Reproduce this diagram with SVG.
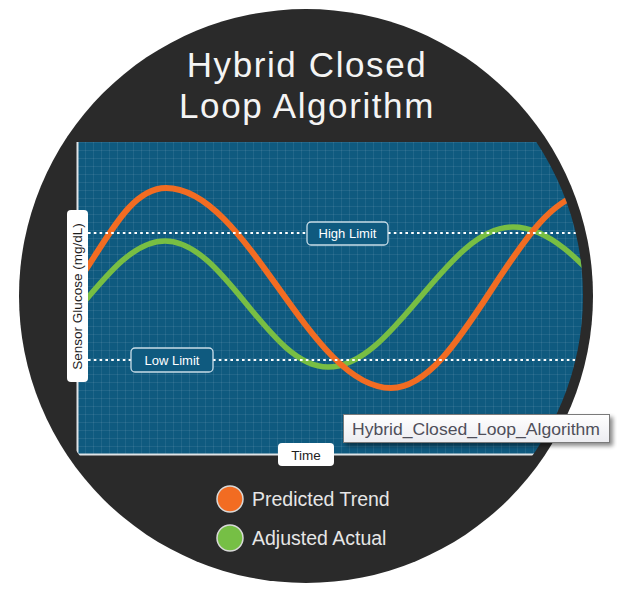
<svg xmlns="http://www.w3.org/2000/svg" width="617" height="590" viewBox="0 0 617 590">
<defs>
<style>
.title{font-family:"Liberation Sans",Arial,sans-serif;font-size:35px;fill:#f4f4f4;letter-spacing:1.6px;text-anchor:middle}
.axis-box{fill:#ffffff}
.axis-text{font-family:"Liberation Sans",Arial,sans-serif;font-size:13.5px;fill:#1e1e1e;text-anchor:middle}
.limit-box{fill:#0f5a7f;stroke:#c9dde8;stroke-width:1.3}
.limit-text{font-family:"Liberation Sans",Arial,sans-serif;font-size:13px;fill:#ffffff;text-anchor:middle}
.limit-line{stroke:#ffffff;stroke-width:2;stroke-dasharray:2.6 3.2;fill:none}
.curve{fill:none;stroke-linecap:round}
.legend-text{font-family:"Liberation Sans",Arial,sans-serif;font-size:19.5px;fill:#e6e6e6}
.legend-dot{stroke:#d9d9d9;stroke-width:1.5}
</style>
<pattern id="grid" x="77" y="142" width="8" height="8" patternUnits="userSpaceOnUse">
<path d="M0.5 0V8M0 0.5H8" stroke="#ffffff" stroke-opacity="0.075" stroke-width="1" fill="none"/>
</pattern>
<clipPath id="chartClip"><circle cx="306" cy="296" r="277"/></clipPath>
<clipPath id="plotClip"><rect x="77" y="142" width="540" height="312"/></clipPath>
<linearGradient id="tipGrad" x1="0" y1="0" x2="0" y2="1">
<stop offset="0" stop-color="#ffffff"/><stop offset="1" stop-color="#ececf0"/>
</linearGradient>
<filter id="shadow" x="-10%" y="-40%" width="130%" height="200%"><feGaussianBlur stdDeviation="2"/></filter>
</defs>

<rect width="617" height="590" fill="#ffffff"/>
<g id="badge">
<circle cx="306" cy="296" r="287" fill="#2a2a2a"/>
</g>

<g id="title">
<text class="title" x="307" y="77">Hybrid Closed</text>
<text class="title" x="307" y="118">Loop Algorithm</text>
</g>

<g id="chart" clip-path="url(#chartClip)">
<rect x="77" y="142" width="540" height="312" fill="#0f5a7f"/>
<rect x="77" y="142" width="540" height="312" fill="url(#grid)"/>
<g id="connectors" clip-path="url(#plotClip)">
<path id="adjusted-actual" class="curve" stroke="#78be43" stroke-width="5.5" d="M0 367 C60 367 105 241 165 241 C225 241 268 367 328 367 C395 367 446 227 513 227 C586 227 640 367 713 367"/>
<path id="predicted-trend" class="curve" stroke="#f26c22" stroke-width="6" d="M72 290 C105 245 128 188 166 188 C248 188 309 388 391 388 C464 388 518 193 591 193 C640 193 660 250 680 300"/>
<path class="limit-line" d="M88 233H307M388 233H600"/>
<path class="limit-line" d="M88 360H131M213 360H600"/>
</g>
<path d="M77.5 142V454.5H600" fill="none" stroke="#dfe3e6" stroke-width="2"/>
</g>

<g id="high-limit">
<rect class="limit-box" x="307" y="222" width="81" height="23" rx="4"/>
<text class="limit-text" x="347.5" y="238">High Limit</text>
</g>
<g id="low-limit">
<rect class="limit-box" x="131" y="348" width="82" height="24" rx="4"/>
<text class="limit-text" x="172" y="364.5">Low Limit</text>
</g>

<g id="y-axis-label">
<rect class="axis-box" x="67" y="210" width="21" height="172" rx="4"/>
<text class="axis-text" transform="translate(82,296.5) rotate(-90)">Sensor Glucose (mg/dL)</text>
</g>
<g id="x-axis-label">
<rect class="axis-box" x="278" y="443" width="56" height="23" rx="4"/>
<text class="axis-text" x="306" y="459.5">Time</text>
</g>

<g id="tooltip">
<rect x="346" y="417" width="267" height="29" fill="#000000" opacity="0.45" filter="url(#shadow)"/>
<rect x="343.5" y="414.5" width="266" height="28" fill="url(#tipGrad)" stroke="#7a7a7a" stroke-width="1"/>
<text x="352" y="435" font-family="'Liberation Sans',Arial,sans-serif" font-size="17" fill="#4f4f5a" textLength="248" lengthAdjust="spacingAndGlyphs">Hybrid_Closed_Loop_Algorithm</text>
</g>

<g id="legend">
<g id="legend-predicted">
<circle class="legend-dot" cx="230" cy="499" r="13" fill="#f26c22"/>
<text class="legend-text" x="252" y="505.5">Predicted Trend</text>
</g>
<g id="legend-adjusted">
<circle class="legend-dot" cx="230" cy="538" r="13" fill="#76bf45"/>
<text class="legend-text" x="252" y="544.5">Adjusted Actual</text>
</g>
</g>
</svg>
